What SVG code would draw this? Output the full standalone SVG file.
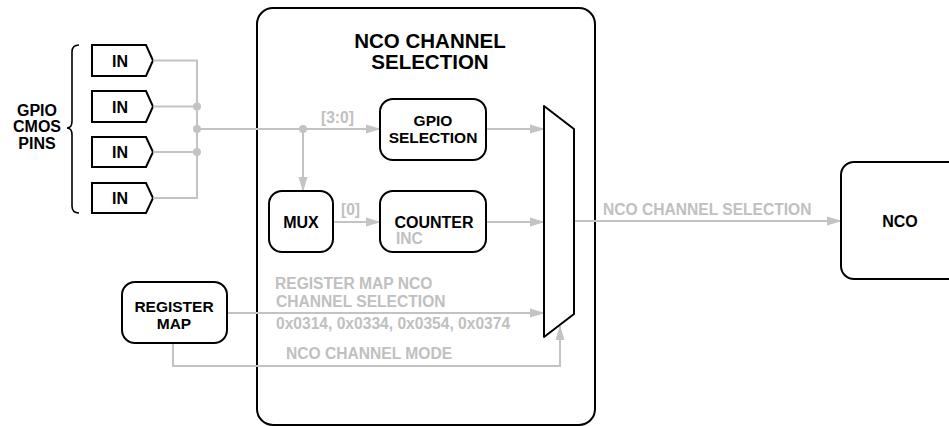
<svg xmlns="http://www.w3.org/2000/svg" width="949" height="426" viewBox="0 0 949 426">
<style>
.box{fill:#fff;stroke:#000;stroke-width:2}
.t{font-family:"Liberation Sans",Arial,sans-serif;font-weight:bold;font-size:16px;fill:#000;text-anchor:middle}
.s{font-size:15.5px}
.g{font-family:"Liberation Sans",Arial,sans-serif;font-weight:bold;font-size:15.6px;fill:#c0c0c0}
.w{fill:none;stroke:#c3c3c3;stroke-width:2}
.dot{fill:#c3c3c3}
</style>
<defs>
<marker id="ah" markerUnits="userSpaceOnUse" markerWidth="15" markerHeight="10" refX="14" refY="5" orient="auto">
<path d="M0,0.5 L15,5 L0,9.5 Z" fill="#c3c3c3"/>
</marker>
</defs>
<g id="container">
<rect x="257" y="8" width="338" height="417" rx="16" class="box"/>
<text class="t" style="font-size:20.5px" x="430" y="47.5">NCO CHANNEL</text>
<text class="t" style="font-size:20.5px" x="430" y="68.5">SELECTION</text>
</g>
<g id="gpio-pins">
<path d="M79,45 Q72,45 72,52 L72,121 Q72,128 67,128 Q72,128 72,135 L72,206 Q72,213 79,213" fill="none" stroke="#000" stroke-width="1.6"/>
<text class="t" x="37" y="115.5">GPIO</text>
<text class="t" x="37" y="132">CMOS</text>
<text class="t" x="37" y="148.5">PINS</text>
</g>
<g id="in1"><path class="box" d="M92,45 H146 L153,60.5 L146,76 H92 Z"/><text class="t" x="120" y="66.5">IN</text></g>
<g id="in2"><path class="box" d="M92,91 H146 L153,106.5 L146,122 H92 Z"/><text class="t" x="120" y="112.5">IN</text></g>
<g id="in3"><path class="box" d="M92,137 H146 L153,152 L146,167 H92 Z"/><text class="t" x="120" y="158">IN</text></g>
<g id="in4"><path class="box" d="M92,183 H146 L153,198 L146,213 H92 Z"/><text class="t" x="120" y="204">IN</text></g>
<g id="connectors">
<path class="w" d="M153,60.5 H197 V198 H153"/>
<path class="w" d="M153,106.5 H197"/>
<path class="w" d="M153,152 H197"/>
<path class="w" d="M197,129 H380" marker-end="url(#ah)"/>
<path class="w" d="M303,129 V191" marker-end="url(#ah)"/>
<circle class="dot" cx="197" cy="106.5" r="4"/>
<circle class="dot" cx="197" cy="129" r="4"/>
<circle class="dot" cx="197" cy="152" r="4"/>
<circle class="dot" cx="303" cy="129" r="4"/>
<path class="w" d="M486,129 H544" marker-end="url(#ah)"/>
<path class="w" d="M333,222 H380" marker-end="url(#ah)"/>
<path class="w" d="M486,222 H544" marker-end="url(#ah)"/>
<path class="w" d="M574,221 H841" marker-end="url(#ah)"/>
<path class="w" d="M227,313 H544" marker-end="url(#ah)"/>
<path class="w" d="M173,343 V366 H560 V326" marker-end="url(#ah)"/>
<text class="g" x="321" y="123">[3:0]</text>
<text class="g" x="341" y="215">[0]</text>
<text class="g" x="603" y="215">NCO CHANNEL SELECTION</text>
<text class="g" x="275" y="289">REGISTER MAP NCO</text>
<text class="g" x="276" y="307">CHANNEL SELECTION</text>
<text class="g" x="276" y="329">0x0314, 0x0334, 0x0354, 0x0374</text>
<text class="g" x="286" y="359">NCO CHANNEL MODE</text>
</g>
<g id="gpio-selection"><rect class="box" x="380" y="99" width="106" height="61" rx="13"/><text class="t s" x="433" y="126">GPIO</text><text class="t s" x="433" y="142.5">SELECTION</text></g>
<g id="mux"><rect class="box" x="269" y="191" width="64" height="61" rx="13"/><text class="t" x="301" y="228">MUX</text></g>
<g id="counter"><rect class="box" x="380" y="191" width="106" height="61" rx="13"/><text class="t" x="434" y="227.5">COUNTER</text><text class="g" x="396" y="244">INC</text></g>
<g id="selector"><path class="box" stroke-linejoin="round" d="M544,106 L574,129 V314 L544,337 Z"/></g>
<g id="register-map"><rect class="box" x="122" y="282" width="105" height="61" rx="13"/><text class="t s" x="174" y="312">REGISTER</text><text class="t s" x="174" y="328.5">MAP</text></g>
<g id="nco"><rect class="box" x="841" y="162" width="130" height="117" rx="13"/><text class="t" x="900" y="227">NCO</text></g>
</svg>
